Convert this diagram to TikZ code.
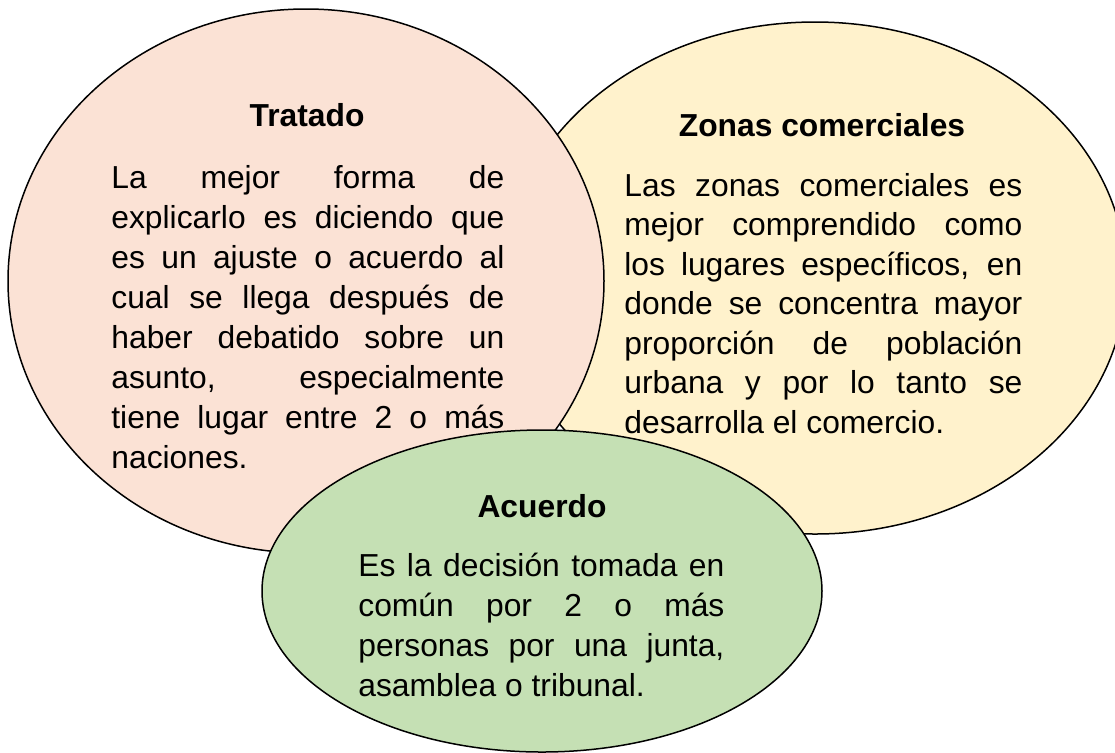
\documentclass[tikz,border=0pt]{standalone}
\usepackage{fontspec}
\setmainfont{Liberation Sans}
\usepackage{tikz}
\usetikzlibrary{shapes.geometric}

\definecolor{rosa}{RGB}{251,226,213}
\definecolor{amarillo}{RGB}{255,242,204}
\definecolor{verde}{RGB}{197,224,180}

\begin{document}
\begin{tikzpicture}[x=0.5pt,y=-0.5pt,
		circulo/.style={ellipse,draw=black,line width=0.75pt,inner sep=0pt},
		titulo/.style={anchor=base,inner sep=0pt,font=\fontsize{15.9}{20}\selectfont\bfseries},
		texto/.style={anchor=base west,inner sep=0pt,font=\fontsize{15.9}{20}\selectfont}]
		%		\draw[step=50,black!20,thin] (0,0) grid (1115,752);
		\useasboundingbox (0,0) rectangle (1115,752);
		
		\node[circulo,fill=amarillo,minimum width=311pt,minimum height=256pt] (Z) at (815,278) {};
		\node[circulo,fill=rosa,minimum width=298pt,minimum height=272pt] (T) at (306,281) {};
		\node[circulo,fill=verde,minimum width=280pt,minimum height=161pt] (A) at (542,591) {};
		
		\node[titulo] (T1) at (307,126) {Tratado};
		\node[texto] (T2) at (111,188) {\parbox[t]{196.5pt}{\tolerance=10000\hyphenpenalty=10000
				La mejor forma de\linebreak explicarlo es diciendo que\linebreak es un ajuste o acuerdo al\linebreak cual se llega después de\linebreak haber debatido sobre un\linebreak asunto, especialmente\linebreak tiene lugar entre 2 o más\linebreak naciones.}};
		
		\node[titulo] (Z1) at (822,136) {Zonas comerciales};
		\node[texto] (Z2) at (624,196) {\parbox[t]{199pt}{\fontsize{15.9}{19.75}\selectfont\tolerance=10000\hyphenpenalty=10000
				Las zonas comerciales es\linebreak mejor comprendido como\linebreak los lugares específicos, en\linebreak donde se concentra mayor\linebreak proporción de población\linebreak urbana y por lo tanto se\linebreak desarrolla el comercio.}};
		
		\node[titulo] (A1) at (542,517) {Acuerdo};
		\node[texto] (A2) at (358,576) {\parbox[t]{183pt}{\tolerance=10000\hyphenpenalty=10000
				Es la decisión tomada en\linebreak común por 2 o más\linebreak personas por una junta,\linebreak asamblea o tribunal.}};
		\end{tikzpicture}
\end{document}
